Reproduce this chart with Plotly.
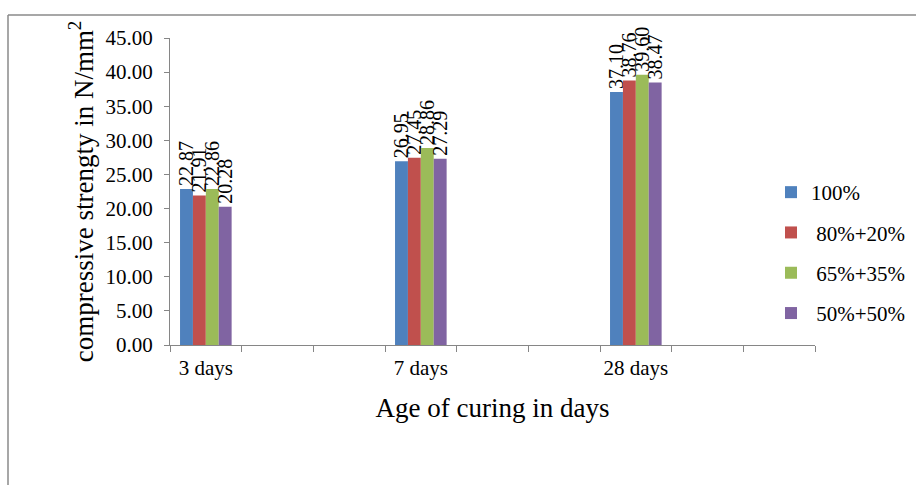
import plotly.graph_objects as go

categories = ["3 days", "7 days", "28 days"]
series_names = ["100%", "\u00a080%+20%", "\u00a065%+35%", "\u00a050%+50%"]
values_100 = [22.87, 26.95, 37.10]
values_80_20 = [21.91, 27.45, 38.76]
values_65_35 = [22.86, 28.86, 39.60]
values_50_50 = [20.28, 27.29, 38.47]
colors = ["#4F81BD", "#C0504D", "#9BBB59", "#8064A2"]

series_values = [values_100, values_80_20, values_65_35, values_50_50]

# category order with two empty slots after each labelled category
cat_order = []
k = 1
for c in categories:
    cat_order.append(c)
    for _ in range(2):
        cat_order.append(" " * k)
        k += 1

FONT = "Liberation Serif"
fig = go.Figure()
for name, vals, col in zip(series_names, series_values, colors):
    fig.add_trace(go.Bar(
        x=categories, y=vals, name=name, marker_color=col,
        marker_line_width=0,
        text=[f"{v:.2f}" for v in vals], textposition="outside",
        textangle=-90, constraintext="none", cliponaxis=False,
        textfont=dict(family=FONT, size=20, color="black"),
        legendgroup=name,
    ))

W, H = 916, 485
L, R, T, B = 170, 101, 38, 140
pw, ph = W - L - R, H - T - B

def px_x(x):
    return (x - L) / pw

def px_y(y):
    return (H - B - y) / ph

fig.update_layout(
    width=W, height=H,
    margin=dict(l=L, r=R, t=T, b=B, autoexpand=False),
    paper_bgcolor="white", plot_bgcolor="white",
    font=dict(family=FONT, size=20, color="black"),
    barmode="group", bargap=0.28, bargroupgap=0,
    showlegend=True,
    legend=dict(xref="container", yref="container",
                x=771 / W, xanchor="left", y=1 - 172 / H, yanchor="top",
                font=dict(family=FONT, size=21), tracegroupgap=10,
                bgcolor="rgba(0,0,0,0)"),
    xaxis=dict(
        type="category", categoryorder="array", categoryarray=cat_order,
        range=[-0.5, len(cat_order) - 0.5], automargin=False,
        tickson="boundaries", ticks="outside", ticklen=6, tickcolor="#868686",
        showline=True, linecolor="#868686", linewidth=1, showgrid=False,
        tickangle=0, tickfont=dict(family=FONT, size=21), ticklabelstandoff=4,
        title=dict(text="Age of curing in days", font=dict(family=FONT, size=27), standoff=18),
    ),
    yaxis=dict(
        range=[0, 45], dtick=5, tickformat=".2f", automargin=False,
        ticks="outside", ticklen=5, tickcolor="#868686",
        showline=True, linecolor="#868686", linewidth=1, showgrid=False, zeroline=False,
        tickfont=dict(family=FONT, size=21), ticklabelstandoff=7,
        title=dict(text="compressive strengty in N/mm<sup>2</sup>", font=dict(family=FONT, size=27), standoff=4),
    ),
    shapes=[
        dict(type="line", xref="paper", yref="paper", x0=px_x(8), x1=px_x(916),
             y0=px_y(15), y1=px_y(15), line=dict(color="#8a8a8a", width=1.5)),
        dict(type="line", xref="paper", yref="paper", x0=px_x(8), x1=px_x(8),
             y0=px_y(15), y1=px_y(485), line=dict(color="#8a8a8a", width=1.5)),
    ],
)

fig.write_html("out.html")
